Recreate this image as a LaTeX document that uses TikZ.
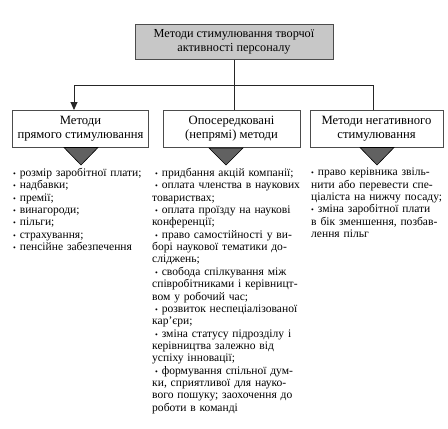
\documentclass[tikz,border=0pt]{standalone}
\usepackage{fontspec}
\setmainfont{Liberation Serif}
\usetikzlibrary{arrows.meta}
\newlength\myind
\newcommand\bul{{\fontsize{8}{8}\selectfont •}\ }
\newcommand\jfirst[1]{\noindent\hspace*{\myind}\makebox[\dimexpr\linewidth-\myind\relax][s]{#1}\par}
\newcommand\lfirst[1]{\noindent\hspace*{\myind}#1\par}
\newcommand\jline[1]{\noindent\makebox[\linewidth][s]{#1}\par}
\newcommand\lline[1]{\noindent #1\par}
\tikzset{
  conn/.style={draw=black!85, line width=0.9bp},
  headbox/.style={draw=black!70, line width=1bp, fill=black!22, minimum width=198bp, minimum height=35bp, align=center, inner sep=1bp, font=\fontsize{12.3}{14}\selectfont},
  methbox/.style={draw=black!70, line width=1bp, fill=white, minimum height=37bp, align=center, inner sep=1bp, font=\fontsize{12.7}{14}\selectfont},
  tri/.style={draw=black, line width=0.6bp, fill=black!62},
  col/.style={anchor=north west, inner sep=0pt, align=left, font=\fontsize{11.6}{12.4}\selectfont}
}
\begin{document}
\begin{tikzpicture}[x=1bp,y=-1bp]
\useasboundingbox (0,0) rectangle (448,428);
\node[headbox] (top) at (234,41.5) {Методи стимулювання творчої\\активності персоналу};
\node[methbox, minimum width=135bp] (b1) at (80.5,129) {Методи\\прямого стимулювання};
\node[methbox, minimum width=137bp] (b2) at (231.5,129) {Опосередковані\\(непрямі) методи};
\node[methbox, minimum width=133bp] (b3) at (376.5,129) {Методи негативного\\стимулювання};
\coordinate (j) at (234,85);
\coordinate (jl) at (74,85);
\coordinate (jr) at (373,85);
\draw[conn] (top.south) -- (j);
\draw[conn] (jl) -- (jr);
\draw[conn, -{Triangle[length=8bp,width=7bp]}] (jl) -- (b1.north -| jl);
\draw[conn] (j) -- (b2.north -| j);
\draw[conn] (jr) -- (b3.north -| jr);
\draw[tri] (64,147.5) -- (98,147.5) -- (81,165) -- cycle;
\draw[tri] (209,148) -- (243,148) -- (226,165) -- cycle;
\draw[tri] (360,147.5) -- (394,147.5) -- (377,165) -- cycle;
\node[col, text width=133bp] (c1) at (13,168) {%
\lline{\bul розмір заробітної плати;}
\lline{\bul надбавки;}
\lline{\bul премії;}
\lline{\bul винагороди;}
\lline{\bul пільги;}
\lline{\bul страхування;}
\lline{\bul пенсійне забезпечення}};
\node[col, text width=152bp] (c2) at (152,168) {\setlength\myind{3bp}%
\lfirst{\bul придбання акцій компанії;}
\jfirst{\bul оплата членства в наукових}
\lline{товариствах;}
\jfirst{\bul оплата проїзду на наукові}
\lline{конференції;}
\jfirst{\bul право самостійності у ви-}
\jline{борі наукової тематики до-}
\lline{сліджень;}
\jfirst{\bul свобода спілкування між}
\jline{співробітниками і керівницт-}
\lline{вом у робочий час;}
\jfirst{\bul розвиток неспеціалізованої}
\lline{кар’єри;}
\jfirst{\bul зміна статусу підрозділу і}
\jline{керівництва залежно від}
\lline{успіху інновації;}
\jfirst{\bul формування спільної дум-}
\jline{ки, сприятливої для науко-}
\jline{вого пошуку; заохочення до}
\lline{роботи в команді}};
\node[col, text width=136bp] (c3) at (311,168) {\setlength\myind{0bp}%
\jfirst{\bul право керівника звіль-}
\jline{нити або перевести спе-}
\jline{ціаліста на нижчу посаду;}
\jfirst{\bul зміна заробітної плати}
\jline{в бік зменшення, позбав-}
\lline{лення пільг}};
\end{tikzpicture}
\end{document}
